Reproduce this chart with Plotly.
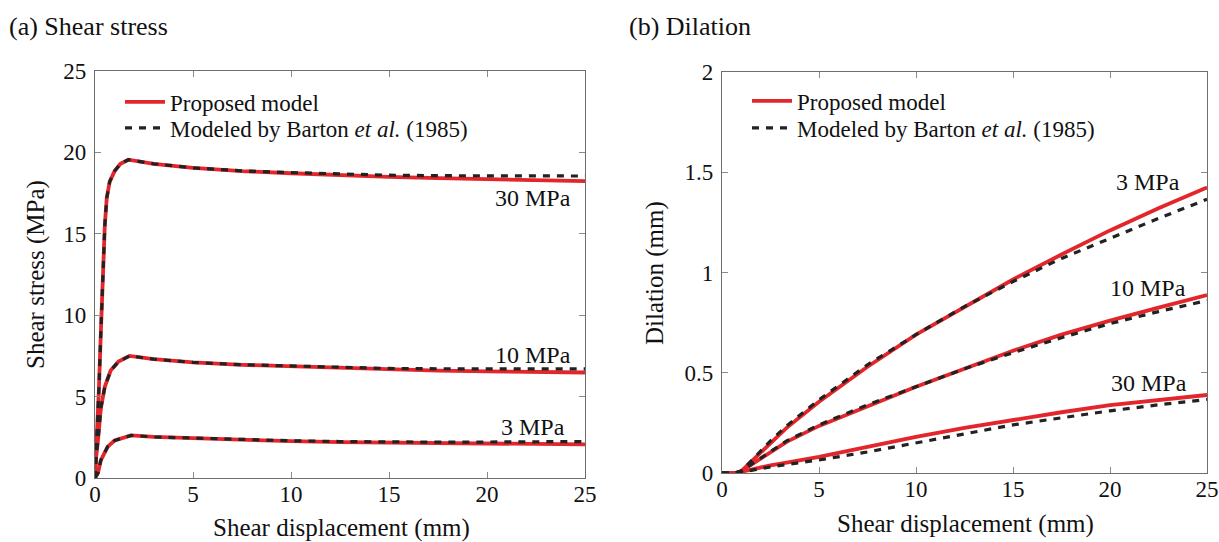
import plotly.graph_objects as go

# ---------------- data: (a) shear stress ----------------
ss30_x = [0, 0.1, 0.2, 0.3, 0.4, 0.5, 0.6, 0.75, 1.0, 1.3, 1.7, 3, 5, 7.5, 10, 12.5, 15, 17.5, 20, 22.5, 25]
ss30_red = [0, 2.5, 5.5, 9.0, 12.5, 15.5, 17.2, 18.2, 18.85, 19.3, 19.55, 19.3, 19.05, 18.85, 18.72, 18.6, 18.5, 18.42, 18.35, 18.28, 18.23]
ss30_blk = [0, 2.5, 5.5, 9.0, 12.5, 15.5, 17.2, 18.2, 18.85, 19.3, 19.55, 19.3, 19.05, 18.87, 18.76, 18.67, 18.6, 18.57, 18.55, 18.55, 18.55]

ss10_x = [0, 0.05, 0.15, 0.3, 0.5, 0.8, 1.2, 1.76, 3, 5, 7.5, 10, 12.5, 15, 17.5, 20, 22.5, 25]
ss10_red = [0, 1.2, 2.3, 4.3, 5.6, 6.6, 7.15, 7.5, 7.3, 7.1, 6.95, 6.85, 6.75, 6.67, 6.6, 6.55, 6.51, 6.48]
ss10_blk = [0, 1.2, 2.3, 4.3, 5.6, 6.6, 7.15, 7.5, 7.3, 7.1, 6.96, 6.87, 6.79, 6.73, 6.71, 6.7, 6.7, 6.7]

ss3_x = [0, 0.15, 0.3, 0.65, 1.0, 1.84, 3, 5, 7.5, 10, 12.5, 15, 17.5, 20, 22.5, 25]
ss3_red = [0, 0.3, 1.1, 1.93, 2.3, 2.62, 2.52, 2.44, 2.34, 2.26, 2.2, 2.16, 2.13, 2.11, 2.09, 2.07]
ss3_blk = [0, 0.3, 1.1, 1.93, 2.3, 2.62, 2.52, 2.45, 2.36, 2.29, 2.24, 2.21, 2.2, 2.21, 2.22, 2.24]

# ---------------- data: (b) dilation ----------------
dl_x = [0, 0.7, 1.0, 1.5, 2.5, 3.33, 5, 7.5, 10, 12.5, 15, 17.5, 20, 22.5, 25]
dl3_red = [0, 0, 0.01, 0.055, 0.15, 0.225, 0.355, 0.53, 0.69, 0.83, 0.965, 1.09, 1.21, 1.32, 1.424]
dl3_blk = [0, 0, 0.01, 0.06, 0.16, 0.235, 0.365, 0.54, 0.69, 0.83, 0.955, 1.07, 1.17, 1.27, 1.365]
dl10_red = [0, 0, 0.01, 0.04, 0.105, 0.155, 0.235, 0.335, 0.43, 0.52, 0.61, 0.69, 0.76, 0.825, 0.887]
dl10_blk = [0, 0, 0.01, 0.043, 0.11, 0.16, 0.24, 0.34, 0.43, 0.52, 0.6, 0.675, 0.745, 0.805, 0.86]
dl30_red = [0, 0, 0.006, 0.018, 0.038, 0.052, 0.08, 0.13, 0.18, 0.225, 0.265, 0.303, 0.338, 0.365, 0.389]
dl30_blk = [0, 0, 0.005, 0.014, 0.03, 0.042, 0.065, 0.105, 0.15, 0.195, 0.24, 0.275, 0.31, 0.34, 0.367]

legend_names = ["Proposed model", "Modeled by Barton <i>et al.</i> (1985)"]
ss_labels = [("30 MPa", 22.35, 17.2), ("10 MPa", 22.35, 7.55), ("3 MPa", 22.35, 3.15)]
dl_labels = [("3 MPa", 21.98, 1.453), ("10 MPa", 21.98, 0.921), ("30 MPa", 22.0, 0.447)]

RED = "#e3262b"
BLK = "#222222"
AX = "#6e6e6e"
FONT = "Liberation Serif"

fig = go.Figure()

# red first, then dashed on top; each legend entry lives in its own legend box
def add_panel(data, xa, ya, leg_red, leg_blk):
    for i, (x, yr, yb) in enumerate(data):
        fig.add_trace(go.Scatter(x=x, y=yr, mode="lines", line=dict(color=RED, width=3.8),
                                 name=legend_names[0], showlegend=(i == 0), legend=leg_red,
                                 xaxis=xa, yaxis=ya))
    for i, (x, yr, yb) in enumerate(data):
        fig.add_trace(go.Scatter(x=x, y=yb, mode="lines", line=dict(color=BLK, width=3.2, dash="7px,7px"),
                                 name=legend_names[1], showlegend=(i == 0), legend=leg_blk,
                                 xaxis=xa, yaxis=ya))

add_panel([(ss30_x, ss30_red, ss30_blk), (ss10_x, ss10_red, ss10_blk), (ss3_x, ss3_red, ss3_blk)],
          "x", "y", "legend", "legend2")
add_panel([(dl_x, dl3_red, dl3_blk), (dl_x, dl10_red, dl10_blk), (dl_x, dl30_red, dl30_blk)],
          "x2", "y2", "legend3", "legend4")

W, H = 1219, 542
def px_x(p): return p / W
def px_y(p): return 1 - p / H

axis_common = dict(showgrid=False, zeroline=False, showline=True, linecolor=AX, linewidth=1.3,
                   mirror="ticks", ticks="inside", ticklen=6, tickcolor="#8a8a8a", tickwidth=1,
                   automargin=False,
                   tickfont=dict(family=FONT, size=23, color="#111"))

def leg(xp, yp):
    return dict(x=px_x(xp), y=px_y(yp), xanchor="left", yanchor="middle", bgcolor="rgba(0,0,0,0)",
                font=dict(family=FONT, size=23, color="#111"), itemwidth=40)

fig.update_layout(
    width=W, height=H, margin=dict(l=0, r=0, t=0, b=0, autoexpand=False),
    paper_bgcolor="white", plot_bgcolor="white",
    font=dict(family=FONT, color="#111"),
    xaxis=dict(domain=[px_x(95), px_x(585)], range=[0, 25], tickvals=[0, 5, 10, 15, 20, 25],
               anchor="y", ticklabelstandoff=-5, **axis_common),
    yaxis=dict(domain=[px_y(478), px_y(71)], range=[0, 25], tickvals=[0, 5, 10, 15, 20, 25],
               anchor="x", ticklabelstandoff=3, **axis_common),
    xaxis2=dict(domain=[px_x(722), px_x(1207)], range=[0, 25], tickvals=[0, 5, 10, 15, 20, 25],
                anchor="y2", ticklabelstandoff=-5, **axis_common),
    yaxis2=dict(domain=[px_y(473), px_y(72)], range=[0, 2], tickvals=[0, 0.5, 1, 1.5, 2],
                ticktext=["0", "0.5", "1", "1.5", "2"], anchor="x2", ticklabelstandoff=3, **axis_common),
    legend=leg(120, 102),
    legend2=leg(120, 128),
    legend3=leg(747, 101),
    legend4=leg(747, 128),
)

ann = []
for t, x, y in ss_labels:
    ann.append(dict(text=t, x=x, y=y, xref="x", yref="y", showarrow=False,
                    font=dict(family=FONT, size=24, color="#111")))
for t, x, y in dl_labels:
    ann.append(dict(text=t, x=x, y=y, xref="x2", yref="y2", showarrow=False,
                    font=dict(family=FONT, size=24, color="#111")))

def pann(text, xp, yp, size, xanchor="center", angle=0):
    return dict(text=text, x=px_x(xp), y=px_y(yp), xref="paper", yref="paper", xanchor=xanchor,
                yanchor="middle", textangle=angle, showarrow=False,
                font=dict(family=FONT, size=size, color="#111"))

ann += [
    pann("(a) Shear stress", 7, 26, 26, "left"),
    pann("(b) Dilation", 627, 26, 26, "left"),
    pann("Shear displacement (mm)", 341, 528, 25),
    pann("Shear displacement (mm)", 965, 524, 25),
    pann("Shear stress (MPa)", 36, 275, 25, "center", -90),
    pann("Dilation (mm)", 655, 273, 25, "center", -90),
]
fig.update_layout(annotations=ann)

fig.write_html("out.html", config={"displayModeBar": False},
               post_script="document.body.style.margin='0px';")
